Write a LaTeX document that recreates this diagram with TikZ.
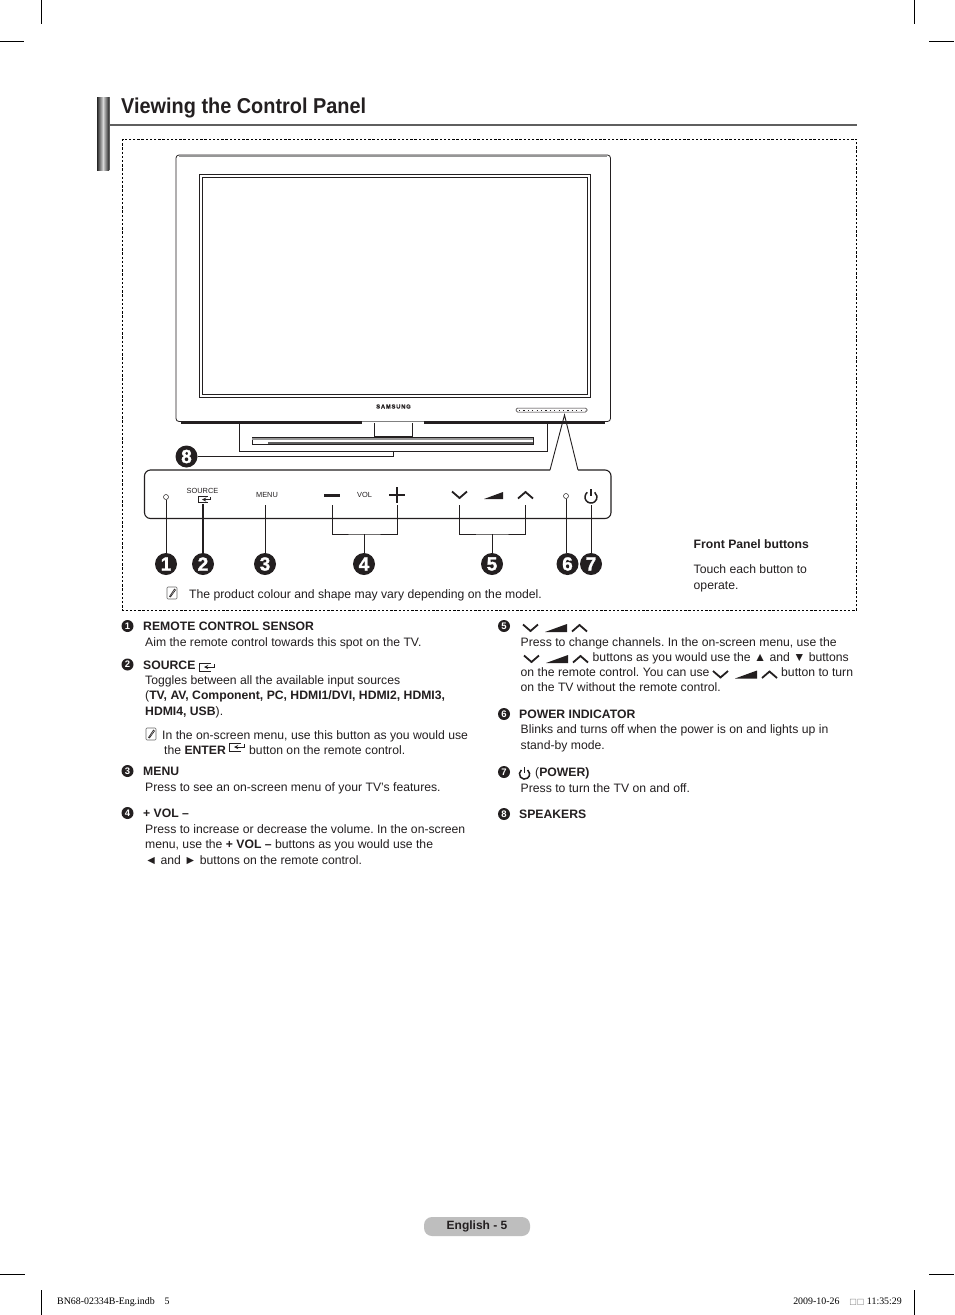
\documentclass[tikz,border=0pt]{standalone}
\usepackage{fontspec}
\setmainfont{Liberation Sans}
\newfontfamily\cropserif{Liberation Serif}
\newfontfamily\boxfont{DejaVu Sans}
\newfontface\heavyfont[FakeBold=1.4]{Liberation Sans Bold}
\newfontface\titlefont[FakeStretch=0.925]{Liberation Sans Bold}
\usepackage{xcolor}
\usepackage{tikz}
\usetikzlibrary{shapes,arrows,positioning,calc}
\definecolor{inkblack}{RGB}{35,31,32}
\definecolor{rulegray}{RGB}{95,95,95}
\definecolor{pillgray}{RGB}{190,190,190}
\definecolor{speakergray}{RGB}{150,150,150}
\newcommand{\bodyfont}{\fontsize{12.2}{15.2}\selectfont\frenchspacing}
\tikzset{
    bodytext/.style={anchor=base west, inner sep=0pt, font=\bodyfont, text=inkblack, align=left},
    headtext/.style={bodytext, font=\bodyfont\bfseries},
    paneltext/.style={inner sep=0pt, font=\fontsize{7.4}{7.6}\selectfont, text=inkblack, align=center},
    bignum/.style={circle, fill=inkblack, text=white, inner sep=0pt, minimum size=22pt, font=\heavyfont\fontsize{19}{19}\selectfont},
    smallnum/.style={circle, fill=inkblack, text=white, inner sep=0pt, minimum size=12pt, font=\fontsize{9.5}{9.5}\selectfont\bfseries},
    lead/.style={draw=inkblack, line width=0.9pt},
    tvline/.style={draw=inkblack, line width=0.8pt},
    crop/.style={draw=black, line width=0.7pt},
    keyline/.style={draw=inkblack, line width=1.6pt},
    chandown/.pic={\draw[keyline, line width=1.8pt] (0,-3.5) -- (7.5,3) -- (15,-3.5);},
    chanup/.pic={\draw[keyline, line width=1.8pt] (0,3.5) -- (7.5,-3) -- (15,3.5);},
    chanwedge/.pic={\fill[inkblack] (0,4) -- (22,-4) -- (22,4) -- cycle;},
    chanset/.pic={
        \pic at (0,0) {chandown};
        \pic at (22,0) {chanwedge};
        \pic at (49,0) {chanup};
    },
    poweric/.pic={
        \draw[inkblack, line width=1.5pt] (-3.7,-4.7) arc[start angle=128, end angle=412, radius=6pt];
        \draw[inkblack, line width=1.5pt] (0,-8) -- (0,-1);
    },
    entericon/.pic={
        \draw[inkblack, line width=0.6pt] (12,-4) -- (0,-4) -- (0,4) -- (12,4);
        \draw[inkblack, line width=0.9pt, ->, >=stealth] (15,-3) -- (15,0) -- (5,0);
    },
    notemark/.pic={
        \draw[gray!80!black, line width=0.6pt, rounded corners=1pt] (-5,-6) rectangle (5,6);
        \draw[inkblack, line width=0.6pt] (-2.5,3.5) -- (2.5,-4) -- (3.5,-3) -- (-1.5,4) -- cycle;
    },
}
\begin{document}
\begin{tikzpicture}[x=1pt,y=-1pt]
    \useasboundingbox[fill=white] (0,0) rectangle (954,1315);

    % Crop marks
    \draw[crop] (41,0) -- (41,24);
    \draw[crop] (914,0) -- (914,24);
    \draw[crop] (0,41) -- (24,41);
    \draw[crop] (929,41) -- (954,41);
    \draw[crop] (0,1274) -- (25,1274);
    \draw[crop] (929,1274) -- (954,1274);
    \draw[crop] (41,1290) -- (41,1315);
    \draw[crop] (914,1290) -- (914,1315);

    % Heading
    \shade[left color=black!85, right color=black!85, middle color=black!15] (97,97) rectangle (109,170);
    \draw[rulegray, line width=1.2pt] (109.5,97) -- (109.5,170);
    \draw[rulegray, line width=1.5pt] (109,125) -- (857,125);
    \node[anchor=base west, inner sep=0pt, font=\titlefont\fontsize{21.5}{24}\selectfont, text=inkblack] (title) at (121,113) {Viewing the Control Panel};
    \draw[black, line width=0.8pt, dash pattern=on 2.4pt off 1.8pt] (122.5,139) rectangle (856.5,610.5);

    % TV set
    \draw[tvline, fill=white, rounded corners=3pt] (176,155) rectangle (610.5,421.5);
    \draw[speakergray, line width=1.4pt] (179,156) -- (607,156);
    \draw[tvline] (199,174) rectangle (590,397);
    \draw[tvline, line width=1pt] (202,177) rectangle (587,394);
    \draw[inkblack, line width=1.2pt] (181,423) -- (605,423);
    \draw[white, line width=1.6pt] (362,423) -- (424,423);
    \draw[gray, line width=0.6pt] (362,421.5) -- (424,421.5);
    \node[inner sep=0pt, font=\heavyfont\fontsize{5.8}{6}\selectfont\addfontfeature{LetterSpace=14}, text=inkblack] (logo) at (393.5,406.5) {SAMSUNG};
    \draw[inkblack, line width=0.5pt, rounded corners=1.5pt] (516,408) rectangle (587,412);
    \draw[inkblack, line width=0.9pt, dash pattern=on 1.2pt off 3.2pt] (519,410) -- (585,410);

    % Stand and speakers
    \draw[tvline] (374,423) |- (412,436.5) -- (412,423);
    \draw[lead] (239,423) |- (547,451) -- (547,423);
    \draw[inkblack, line width=0.6pt, fill=white] (252,437) rectangle (533,444);
    \fill[speakergray] (252,437.5) rectangle (533,440);
    \fill[rulegray] (268,441.5) rectangle (533,444);

    % Control strip
    \coordinate (tip) at (564.5,415);
    \draw[inkblack, line width=1.1pt, fill=white, rounded corners=6pt] (550,470) -- (144.5,470) -- (144.5,518.5) -- (611,518.5) -- (611,470) -- (578,470);
    \draw[lead] (550,470) -- (tip) -- (578,470);
    \node[circle, draw=inkblack, line width=0.5pt, inner sep=0pt, minimum size=5pt] (led1) at (166,497) {};
    \node[paneltext] (srclabel) at (202.5,491) {SOURCE};
    \pic[scale=0.8] at (198,499.5) {entericon};
    \node[paneltext] (menulabel) at (267,495) {MENU};
    \node[paneltext] (vollabel) at (364.5,495) {VOL};
    \draw[inkblack, line width=2.8pt] (324,495.5) -- (340,495.5);
    \draw[inkblack, line width=2.8pt] (389,495) -- (405,495);
    \draw[inkblack, line width=2.8pt] (397,487) -- (397,503);
    \pic at (452,495) {chandown};
    \fill[inkblack] (484,499) -- (503,492) -- (503,499) -- cycle;
    \pic at (518,495) {chanup};
    \node[circle, draw=inkblack, line width=0.5pt, inner sep=0pt, minimum size=5pt] (led6) at (566,496) {};
    \pic at (591,497) {poweric};

    % Numbers
    \node[bignum] (num1) at (166,564) {1};
    \node[bignum] (num2) at (203,564) {2};
    \node[bignum] (num3) at (265,564) {3};
    \node[bignum] (num4) at (364,564) {4};
    \node[bignum] (num5) at (492,564) {5};
    \node[bignum] (num6) at (567.5,564) {6};
    \node[bignum] (num7) at (591,564) {7};
    \node[bignum] (num8) at (186.5,456.5) {8};

    % Leaders
    \coordinate (srckey) at (203,504);
    \coordinate (menukey) at (265,505);
    \coordinate (volminus) at (332,505);
    \coordinate (volplus) at (397,505);
    \coordinate (voljoin) at (364,534);
    \coordinate (chdown) at (459.5,505);
    \coordinate (chup) at (525,505);
    \coordinate (chjoin) at (492,534);
    \coordinate (powkey) at (591,505);
    \coordinate (spkjoin) at (393,451);
    \coordinate (spkfoot) at (393,456.5);
    \draw[lead] (led1) -- (num1);
    \draw[lead, line width=1.7pt] (srckey) -- (num2);
    \draw[lead] (menukey) -- (num3);
    \draw[lead] (volminus) |- (voljoin) -| (volplus);
    \draw[lead] (voljoin) -- (num4);
    \draw[lead] (chdown) |- (chjoin) -| (chup);
    \draw[lead] (chjoin) -- (num5);
    \draw[lead] (led6) -- (led6 |- num6.north);
    \draw[lead] (powkey) -- (num7);
    \draw[lead] (num8) -- (spkfoot) -- (spkjoin);

    % Captions
    \pic at (172,593) {notemark};
    \node[bodytext] (prodnote) at (189,598) {The product colour and shape may vary depending on the model.};
    \node[headtext] (fronthead) at (693.5,548) {Front Panel buttons};
    \node[bodytext] (fronttext) at (693.5,589) {Touch each button to\\operate.};

    % Left column
    \node[smallnum] (item1) at (127.5,626) {1};
    \node[headtext] (head1) at (143,630) {REMOTE CONTROL SENSOR};
    \node[bodytext] (text1) at (145,646) {Aim the remote control towards this spot on the TV.};
    \node[smallnum] (item2) at (127.5,664.5) {2};
    \node[headtext] (head2) at (143,669) {SOURCE};
    \pic at (199,667) {entericon};
    \node[bodytext] (text2) at (145,715) {Toggles between all the available input sources\\(\textbf{TV, AV, Component, PC, HDMI1/DVI, HDMI2, HDMI3,}\\\textbf{HDMI4, USB}).};
    \pic at (151,734) {notemark};
    \node[bodytext] (note2) at (162,739) {In the on-screen menu, use this button as you would use};
    \node[bodytext] (note2b) at (164,754) {the \textbf{ENTER}};
    \pic at (229,747) {entericon};
    \node[bodytext] (note2c) at (249,754) {button on the remote control.};
    \node[smallnum] (item3) at (127.5,771) {3};
    \node[headtext] (head3) at (143,775) {MENU};
    \node[bodytext] (text3) at (145,791) {Press to see an on-screen menu of your TV’s features.};
    \node[smallnum] (item4) at (127.5,813) {4};
    \node[headtext] (head4) at (143,817.5) {+ VOL –};
    \node[bodytext] (text4) at (145,864) {Press to increase or decrease the volume. In the on-screen\\menu, use the \textbf{+ VOL –} buttons as you would use the\\◄ and ► buttons on the remote control.};

    % Right column
    \node[smallnum] (item5) at (504,626) {5};
    \pic at (523,628) {chanset};
    \node[bodytext] (text5a) at (520.5,646) {Press to change channels. In the on-screen menu, use the};
    \pic at (524,659) {chanset};
    \node[bodytext] (text5b) at (592.5,661) {buttons as you would use the ▲ and ▼ buttons};
    \node[bodytext] (text5c) at (520.5,676) {on the remote control. You can use};
    \pic at (713,674.5) {chanset};
    \node[bodytext] (text5d) at (781,676) {button to turn};
    \node[bodytext] (text5e) at (520.5,691) {on the TV without the remote control.};
    \node[smallnum] (item6) at (504,714) {6};
    \node[headtext] (head6) at (519,718) {POWER INDICATOR};
    \node[bodytext] (text6) at (520.5,749) {Blinks and turns off when the power is on and lights up in\\stand-by mode.};
    \node[smallnum] (item7) at (504,772) {7};
    \pic[scale=0.85] at (524.5,774) {poweric};
    \node[bodytext] (head7) at (535,776.5) {(\textbf{POWER)}};
    \node[bodytext] (text7) at (520.5,792) {Press to turn the TV on and off.};
    \node[smallnum] (item8) at (504,814) {8};
    \node[headtext] (head8) at (519,818) {SPEAKERS};

    % Footer
    \node[rounded corners=8pt, fill=pillgray, minimum width=106pt, minimum height=19pt, inner sep=0pt, font=\fontsize{12}{12}\selectfont\bfseries, text=inkblack] (pagenum) at (477,1226.5) {English - 5};
    \node[anchor=base west, inner sep=0pt, font=\cropserif\fontsize{9.9}{10}\selectfont] (slug) at (57,1304) {BN68-02334B-Eng.indb\quad 5};
    \node[anchor=base east, inner sep=0pt, font=\cropserif\fontsize{9.9}{10}\selectfont] (stamp) at (902,1304) {2009-10-26\quad{\boxfont\fontsize{8}{8}\selectfont\textcolor{gray}{□□}}\ 11:35:29};
\end{tikzpicture}
\end{document}
